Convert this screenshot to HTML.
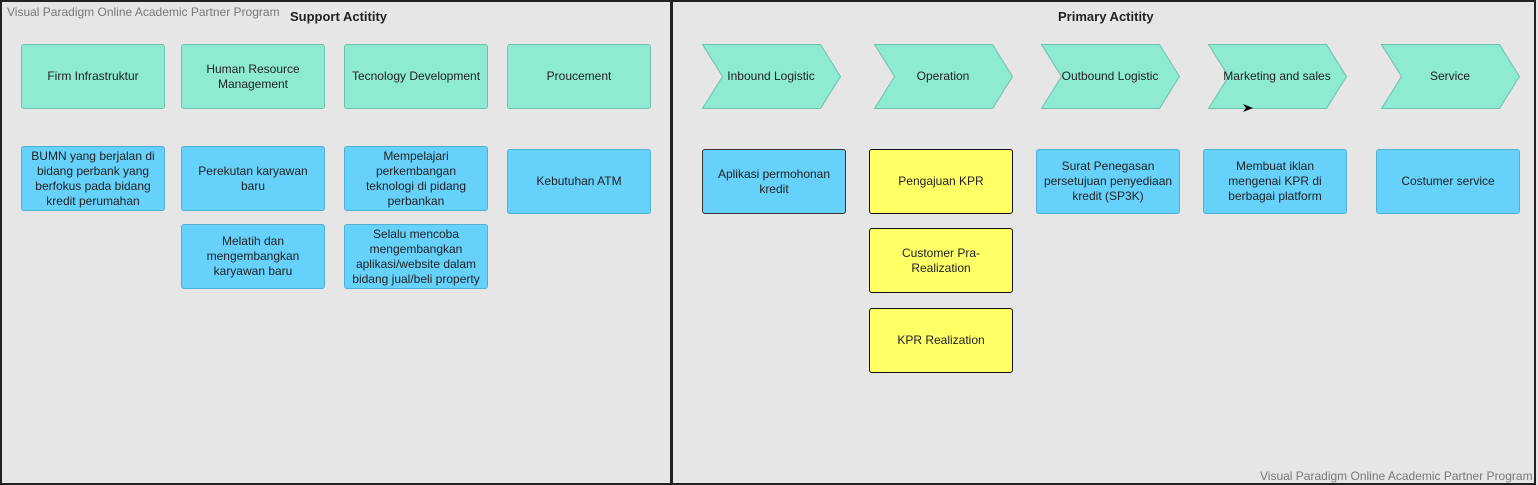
<!DOCTYPE html>
<html><head><style>
body{margin:0;width:1538px;height:485px;background:#e6e6e6;position:relative;overflow:hidden;font-family:"Liberation Sans",sans-serif;font-size:12px;color:#222}
.p{position:absolute;border:2px solid #222;box-sizing:border-box}
.b{position:absolute;box-sizing:border-box;border-radius:3px;display:flex;align-items:center;justify-content:center;text-align:center;line-height:15px;padding:0 6px}
.g{background:#8eead1;border:1px solid #6cc3a6}
.c{background:#66d1fb;border:1px solid #4fb0d2}
.y{background:#ffff66;border:1px solid #111}
.t{position:absolute;font-weight:bold;font-size:13px}
.w{position:absolute;color:#777;font-size:12px}
</style></head><body>
<div class="p" style="left:0;top:0;width:673px;height:485px"></div>
<div class="p" style="left:670px;top:0;width:866px;height:485px"></div>
<div class="w" style="left:7px;top:5px">Visual Paradigm Online Academic Partner Program</div>
<div class="w" style="left:1260px;top:469px">Visual Paradigm Online Academic Partner Program</div>
<div class="t" style="left:290px;top:9px">Support Actitity</div>
<div class="t" style="left:1058px;top:9px">Primary Actitity</div>

<div class="b g" style="left:21px;top:44px;width:144px;height:65px">Firm Infrastruktur</div>
<div class="b g" style="left:181px;top:44px;width:144px;height:65px">Human Resource<br>Management</div>
<div class="b g" style="left:344px;top:44px;width:144px;height:65px;padding:0 2px">Tecnology Development</div>
<div class="b g" style="left:507px;top:44px;width:144px;height:65px">Proucement</div>

<div class="b c" style="left:21px;top:146px;width:144px;height:65px;padding:0 2px">BUMN yang berjalan di bidang perbank yang berfokus pada bidang kredit perumahan</div>
<div class="b c" style="left:181px;top:146px;width:144px;height:65px">Perekutan karyawan<br>baru</div>
<div class="b c" style="left:344px;top:146px;width:144px;height:65px">Mempelajari<br>perkembangan<br>teknologi di pidang<br>perbankan</div>
<div class="b c" style="left:507px;top:149px;width:144px;height:65px">Kebutuhan ATM</div>
<div class="b c" style="left:181px;top:224px;width:144px;height:65px">Melatih dan mengembangkan karyawan baru</div>
<div class="b c" style="left:344px;top:224px;width:144px;height:65px;padding:0 2px">Selalu mencoba<br>mengembangkan<br>aplikasi/website dalam<br>bidang jual/beli property</div>

<svg style="position:absolute;left:0;top:0" width="1538" height="485">
<g fill="#8eead1" stroke="#6cc3a6" stroke-width="1">
<polygon points="702.5,44.5 820.5,44.5 840.5,76.5 820.5,108.5 702.5,108.5 722.5,76.5"/>
<polygon points="874.5,44.5 992.5,44.5 1012.5,76.5 992.5,108.5 874.5,108.5 894.5,76.5"/>
<polygon points="1041.5,44.5 1159.5,44.5 1179.5,76.5 1159.5,108.5 1041.5,108.5 1061.5,76.5"/>
<polygon points="1208.5,44.5 1326.5,44.5 1346.5,76.5 1326.5,108.5 1208.5,108.5 1228.5,76.5"/>
<polygon points="1381.5,44.5 1499.5,44.5 1519.5,76.5 1499.5,108.5 1381.5,108.5 1401.5,76.5"/>
</g>
<polygon points="1243,104 1253,108 1243,112 1246,108" fill="#000"/>
<g font-family="Liberation Sans" font-size="12" text-anchor="middle" fill="#222">
<text x="771" y="80">Inbound Logistic</text>
<text x="943" y="80">Operation</text>
<text x="1110" y="80">Outbound Logistic</text>
<text x="1277" y="80">Marketing and sales</text>
<text x="1450" y="80">Service</text>
</g>
</svg>

<div class="b c" style="left:702px;top:149px;width:144px;height:65px;border-color:#333">Aplikasi permohonan<br>kredit</div>
<div class="b y" style="left:869px;top:149px;width:144px;height:65px">Pengajuan KPR</div>
<div class="b y" style="left:869px;top:228px;width:144px;height:65px">Customer Pra-<br>Realization</div>
<div class="b y" style="left:869px;top:308px;width:144px;height:65px">KPR Realization</div>
<div class="b c" style="left:1036px;top:149px;width:144px;height:65px;padding:0 2px">Surat Penegasan persetujuan penyediaan kredit (SP3K)</div>
<div class="b c" style="left:1203px;top:149px;width:144px;height:65px">Membuat iklan<br>mengenai KPR di<br>berbagai platform</div>
<div class="b c" style="left:1376px;top:149px;width:144px;height:65px">Costumer service</div>
</body></html>
